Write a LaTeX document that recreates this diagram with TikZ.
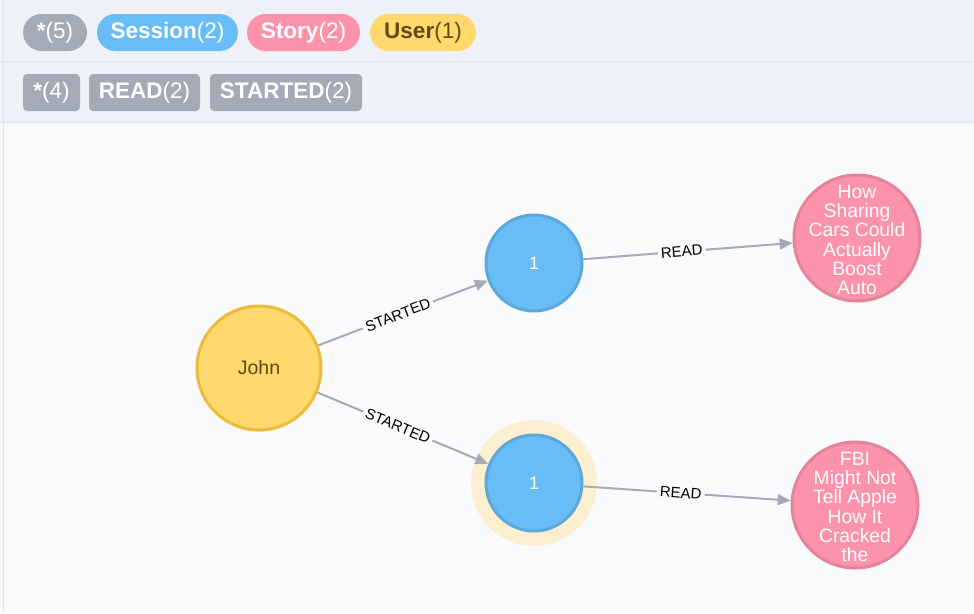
\documentclass[tikz,border=0pt]{standalone}
\usepackage{fontspec}
\setmainfont{Liberation Sans}
\usetikzlibrary{arrows.meta}
\definecolor{canvas}{HTML}{F9FAFC}
\definecolor{header}{HTML}{EEF1F8}
\definecolor{sepline}{HTML}{DFE3EB}
\definecolor{pillgray}{HTML}{A5ABB6}
\definecolor{sessfill}{HTML}{68BDF6}
\definecolor{sessline}{HTML}{5CA8DB}
\definecolor{storyfill}{HTML}{FC93AB}
\definecolor{storyline}{HTML}{E3849C}
\definecolor{userfill}{HTML}{FFD86E}
\definecolor{userline}{HTML}{EDBA39}
\definecolor{usertext}{HTML}{604A0E}
\definecolor{halocol}{HTML}{FBEFCF}
\definecolor{relcol}{HTML}{A5ABB6}
\tikzset{
  pill/.style={rounded corners=18.5pt, minimum height=37pt, inner sep=0pt, text=white,
    font=\fontsize{22.5}{22.5}\selectfont},
  tagbox/.style={rounded corners=4pt, minimum height=37pt, inner sep=0pt, text=white,
    fill=pillgray, font=\fontsize{22.5}{22.5}\selectfont},
  user/.style={circle, fill=userfill, draw=userline, line width=3pt, minimum size=124pt,
    inner sep=0pt, text=usertext, font=\fontsize{19.5}{19.5}\selectfont},
  session/.style={circle, fill=sessfill, draw=sessline, line width=3pt, minimum size=96pt,
    inner sep=0pt, text=white, font=\fontsize{18}{18}\selectfont},
  story/.style={circle, fill=storyfill, draw=storyline, line width=3pt, minimum size=126pt,
    inner sep=0pt},
  storytext/.style={text=white, align=center, inner sep=0pt,
    font=\fontsize{19.3}{19.3}\selectfont},
  halo/.style={circle, fill=halocol, minimum size=126pt, inner sep=0pt},
  rel/.style={draw=relcol, line width=2pt, -{Triangle[length=13pt,width=11pt]}},
  elabel/.style={fill=canvas, text=black, inner sep=3pt, sloped,
    font=\fontsize{15}{15}\selectfont}
}
\begin{document}
\begin{tikzpicture}[x=1pt,y=-1pt]
\useasboundingbox (0,0) rectangle (974,613);
\fill[canvas] (0,0) rectangle (974,613);
\fill[header] (0,0) rectangle (974,122);
\draw[sepline, line width=1.5pt] (0,61.5) -- (974,61.5);
\draw[sepline, line width=1.5pt] (0,122.5) -- (974,122.5);
\draw[sepline, line width=1pt] (3,0) -- (3,613);

% label pills
\node[pill, fill=pillgray, minimum width=64pt] (pall) at (55,32.5) {\textbf{*}(5)};
\node[pill, fill=sessfill, minimum width=141pt] (psess) at (167.5,32.5) {\textbf{Session}(2)};
\node[pill, fill=storyfill, minimum width=113pt] (pstory) at (303.5,32.5) {\textbf{Story}(2)};
\node[pill, fill=userfill, text=usertext, minimum width=106pt] (puser) at (423,32.5) {\textbf{User}(1)};

% relationship tags
\node[tagbox, minimum width=57pt] (tall) at (51.5,92.5) {\textbf{*}(4)};
\node[tagbox, minimum width=111pt] (tread) at (144.5,92.5) {\textbf{READ}(2)};
\node[tagbox, minimum width=152pt] (tstart) at (286,92.5) {\textbf{STARTED}(2)};

% graph nodes
\node[halo] (halo) at (534,483) {};
\node[user] (john) at (259,368) {John};
\node[session] (s1) at (534,263) {1};
\node[session] (s2) at (534,483) {1};
\node[story] (st1) at (857,238) {};
\node[storytext] (st1t) at (857,240) {How\\Sharing\\Cars Could\\Actually\\Boost\\Auto};
\node[story] (st2) at (855,505) {};
\node[storytext] (st2t) at (855,507) {FBI\\Might Not\\Tell Apple\\How It\\Cracked\\the};

% relationships
\draw[rel] (john) -- node[elabel, pos=0.47] {STARTED} (s1);
\draw[rel] (john) -- node[elabel, pos=0.47] {STARTED} (s2);
\draw[rel] (s1) -- node[elabel, pos=0.47] {READ} (st1);
\draw[rel] (s2) -- node[elabel, pos=0.47] {READ} (st2);
\end{tikzpicture}
\end{document}
